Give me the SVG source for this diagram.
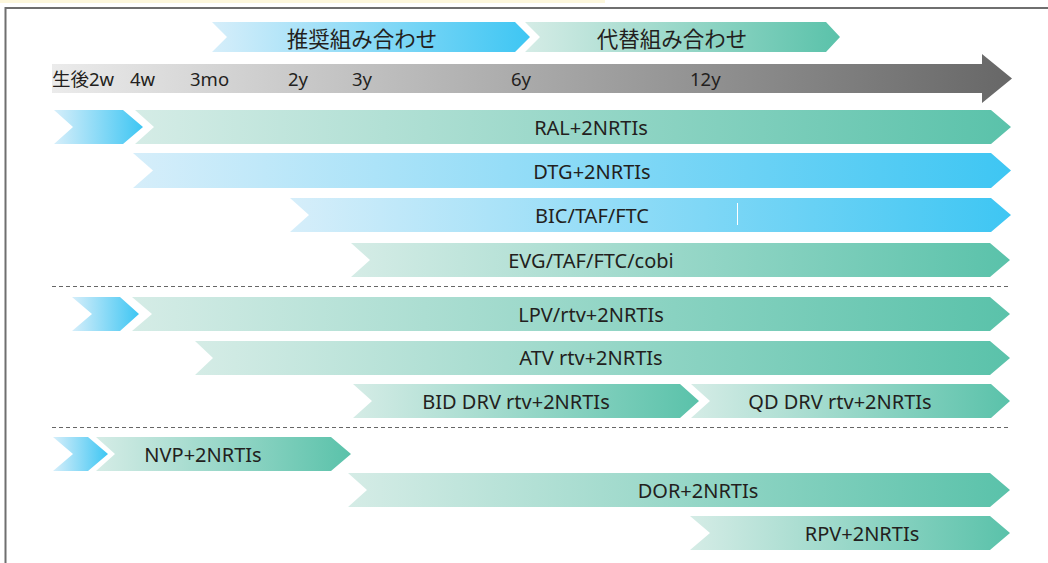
<svg xmlns="http://www.w3.org/2000/svg" width="1048" height="563" viewBox="0 0 1048 563">
<defs>
<linearGradient id="gBlue" x1="0" y1="0" x2="1" y2="0">
<stop offset="0" stop-color="#d6eefa"/>
<stop offset="1" stop-color="#3ec6f3"/>
</linearGradient>
<linearGradient id="gGreen" x1="0" y1="0" x2="1" y2="0">
<stop offset="0" stop-color="#d5ece6"/>
<stop offset="1" stop-color="#5ac2aa"/>
</linearGradient>
<linearGradient id="gGray" x1="0" y1="0" x2="1" y2="0">
<stop offset="0" stop-color="#ebebeb"/>
<stop offset="1" stop-color="#676767"/>
</linearGradient>
</defs>
<style>
.lbl{font-family:"Noto Sans","Open Sans","Noto Sans CJK JP",sans-serif;font-size:20px;fill:#231f20;text-anchor:middle;dominant-baseline:central}
.jp{font-family:"Noto Sans CJK JP",sans-serif;font-size:21.5px;fill:#231f20;text-anchor:middle;dominant-baseline:central}
.tl{font-family:"Noto Sans","Noto Sans CJK JP",sans-serif;font-size:18.5px;fill:#231f20;dominant-baseline:central}
.dash{stroke:#666;stroke-width:1;stroke-dasharray:4 3;fill:none}
.blue{fill:url(#gBlue)}
.green{fill:url(#gGreen)}
</style>
<rect x="0" y="0" width="1048" height="563" fill="#ffffff"/>
<rect x="0" y="0" width="605" height="3" fill="#fdf7dc"/>
<path d="M5.5,563 V8 H1048" fill="none" stroke="#6f6f6f" stroke-width="2"/>

<g id="legend-recommended">
<path class="blue" d="M212,22 H515 L530,37 L515,52 H212 L227,37 Z"/>
<text class="jp" x="362" y="37">推奨組み合わせ</text>
</g>
<g id="legend-alternative">
<path class="green" d="M525,22 H826 L840,37 L826,52 H525 L540,37 Z"/>
<text class="jp" x="672" y="37">代替組み合わせ</text>
</g>

<g id="timeline">
<path fill="url(#gGray)" d="M52,64 H982 V54 L1012,78.5 L982,103 V93 H52 Z"/>
<text class="tl" x="52" y="78">生後2w</text>
<text class="tl" x="130" y="78">4w</text>
<text class="tl" x="190" y="78">3mo</text>
<text class="tl" x="288" y="78">2y</text>
<text class="tl" x="352" y="78">3y</text>
<text class="tl" x="511" y="78">6y</text>
<text class="tl" x="690" y="78">12y</text>
</g>

<g id="row-ral">
<path class="blue" d="M54,110 H123 L143,127 L123,144 H54 L73,127 Z"/>
<path class="green" d="M135,110 H991 L1011,127 L991,144 H135 L154,127 Z"/>
<text class="lbl" x="591" y="127">RAL+2NRTIs</text>
</g>
<g id="row-dtg">
<path class="blue" d="M133,153 H991 L1011,170.5 L991,188 H133 L153,170.5 Z"/>
<text class="lbl" x="592" y="171">DTG+2NRTIs</text>
</g>
<g id="row-bic">
<path class="blue" d="M290,198 H991 L1011,215 L991,232 H290 L309,215 Z"/>
<line x1="737.5" y1="203" x2="737.5" y2="225" stroke="#ffffff" stroke-width="1"/>
<text class="lbl" x="592" y="215">BIC/TAF/FTC</text>
</g>
<g id="row-evg">
<path class="green" d="M351,243 H990 L1010,260 L990,277 H351 L370,260 Z"/>
<text class="lbl" x="591" y="260">EVG/TAF/FTC/cobi</text>
</g>

<g id="connectors">
<line class="dash" x1="52" y1="286.5" x2="1008" y2="286.5"/>
<line class="dash" x1="52" y1="427.5" x2="1008" y2="427.5"/>
</g>

<g id="row-lpv">
<path class="blue" d="M72,297 H120 L139,314 L120,331 H72 L92,314 Z"/>
<path class="green" d="M132,297 H990 L1010,314 L990,331 H132 L152,314 Z"/>
<text class="lbl" x="591" y="314">LPV/rtv+2NRTIs</text>
</g>
<g id="row-atv">
<path class="green" d="M195,341 H990 L1010,358 L990,375 H195 L213,358 Z"/>
<text class="lbl" x="591" y="357">ATV rtv+2NRTIs</text>
</g>
<g id="row-bid-drv">
<path class="green" d="M353,384 H680 L699,401 L680,418 H353 L372,401 Z"/>
<text class="lbl" x="516" y="401">BID DRV rtv+2NRTIs</text>
</g>
<g id="row-qd-drv">
<path class="green" d="M691,384 H991 L1010,401 L991,418 H691 L710,401 Z"/>
<text class="lbl" x="840" y="401">QD DRV rtv+2NRTIs</text>
</g>

<g id="row-nvp">
<path class="blue" d="M53,437 H88 L108,454 L88,471 H53 L73,454 Z"/>
<path class="green" d="M96,437 H331 L351,454 L331,471 H96 L115,454 Z"/>
<text class="lbl" x="203" y="454">NVP+2NRTIs</text>
</g>
<g id="row-dor">
<path class="green" d="M348,473 H990 L1010,490 L990,507 H348 L367,490 Z"/>
<text class="lbl" x="698" y="490">DOR+2NRTIs</text>
</g>
<g id="row-rpv">
<path class="green" d="M690,516 H990 L1010,533 L990,550 H690 L710,533 Z"/>
<text class="lbl" x="862" y="533">RPV+2NRTIs</text>
</g>
</svg>
